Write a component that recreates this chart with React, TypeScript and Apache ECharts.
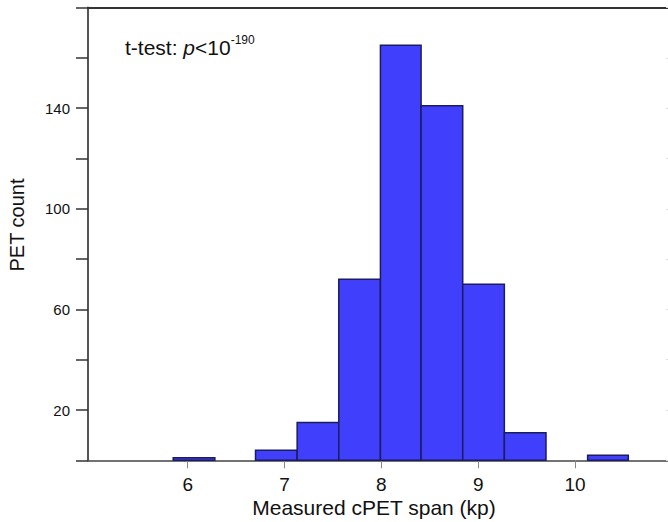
import React, { useEffect, useRef } from "react";
import * as echarts from "echarts";

const binEdges = [5.85, 6.28, 6.7, 7.13, 7.56, 7.99, 8.41, 8.84, 9.27, 9.7, 10.13, 10.55];
const binCounts = [1, 0, 4, 15, 72, 165, 141, 70, 11, 0, 2];
const xTickValues = [6, 7, 8, 9, 10];
const yLabelValues = [20, 60, 100, 140];
const xTitle = "Measured cPET span (kp)";
const yTitle = "PET count";

const FONT = "'Liberation Sans', Arial, sans-serif";

export default function App() {
  const ref = useRef<HTMLDivElement>(null);
  useEffect(() => {
    document.body.style.margin = "0";
    const chart = echarts.init(ref.current!, null, { renderer: "svg" });
    const data = binCounts
      .map((c, i) => [binEdges[i], binEdges[i + 1], c])
      .filter((d) => d[2] > 0);
    chart.setOption({
      animation: false,
      textStyle: { fontFamily: FONT },
      grid: {
        left: 88,
        right: 0,
        top: 7.6,
        bottom: 61.7,
        containLabel: false,
        outerBoundsMode: "none",
      },
      xAxis: [
        {
          type: "value",
          min: 4.97,
          max: 10.96,
          position: "bottom",
          splitLine: { show: false },
          axisLine: { show: true, onZero: false, lineStyle: { color: "#444", width: 1.5 } },
          axisTick: {
            show: true,
            customValues: xTickValues,
            length: 8,
            lineStyle: { color: "#888", width: 1 },
          },
          axisLabel: {
            customValues: xTickValues,
            fontSize: 19,
            lineHeight: 17,
            color: "#111",
            margin: 16,
            fontFamily: FONT,
          },
        },
        {
          type: "value",
          min: 4.97,
          max: 10.96,
          position: "top",
          splitLine: { show: false },
          axisLine: { show: true, onZero: false, lineStyle: { color: "#333", width: 2 } },
          axisTick: { show: false },
          axisLabel: { show: false },
        },
      ],
      yAxis: [
        {
          type: "value",
          min: 0,
          max: 180,
          interval: 20,
          splitLine: { show: false },
          axisLine: { show: true, onZero: false, lineStyle: { color: "#555", width: 2 } },
          axisTick: {
            show: true,
            length: 12,
            lineStyle: { color: "#333", width: 1.5 },
          },
          axisLabel: {
            fontSize: 15,
            color: "#111",
            margin: 18,
            fontFamily: FONT,
            formatter: (v: number) => (yLabelValues.includes(v) ? String(v) : ""),
          },
        },
        {
          type: "value",
          min: 0,
          max: 180,
          interval: 20,
          position: "right",
          splitLine: { show: false },
          axisLine: { show: false },
          axisTick: { show: true, inside: true, length: 2, lineStyle: { color: "#ddd" } },
          axisLabel: { show: false },
        },
      ],
      series: [
        {
          type: "custom",
          xAxisIndex: 0,
          yAxisIndex: 0,
          encode: { x: [0, 1], y: 2 },
          data,
          renderItem: (params: any, api: any) => {
            const p0 = api.coord([api.value(0), api.value(2)]);
            const p1 = api.coord([api.value(1), 0]);
            return {
              type: "rect",
              shape: { x: p0[0], y: p0[1], width: p1[0] - p0[0], height: p1[1] - p0[1] },
              style: { fill: "#3f3ffc", stroke: "#1c1c60", lineWidth: 1.5 },
            };
          },
        },
      ],
      graphic: [
        {
          type: "text",
          x: 17,
          y: 225,
          rotation: Math.PI / 2,
          style: {
            text: yTitle,
            fontSize: 20,
            fontFamily: FONT,
            fill: "#111",
            align: "center",
            verticalAlign: "middle",
          },
        },
        {
          type: "text",
          x: 374,
          y: 507,
          style: {
            text: xTitle,
            fontSize: 21,
            lineHeight: 20,
            fontFamily: FONT,
            fill: "#111",
            align: "center",
            verticalAlign: "middle",
          },
        },
        {
          type: "text",
          x: 125,
          y: 47,
          style: {
            text: "{a|t-test: }{i|p}{a|<10}{s|-190}",
            verticalAlign: "middle",
            fill: "#111",
            rich: {
              a: { fontSize: 21, fontFamily: FONT, fill: "#111", lineHeight: 26 },
              i: { fontSize: 21, fontFamily: FONT, fontStyle: "italic", fill: "#111", lineHeight: 26 },
              s: { fontSize: 12, fontFamily: FONT, fill: "#111", verticalAlign: "top", lineHeight: 14 },
            },
          },
        },
      ],
    });
    return () => chart.dispose();
  }, []);
  return <div ref={ref} style={{ width: 668, height: 522 }} />;
}
